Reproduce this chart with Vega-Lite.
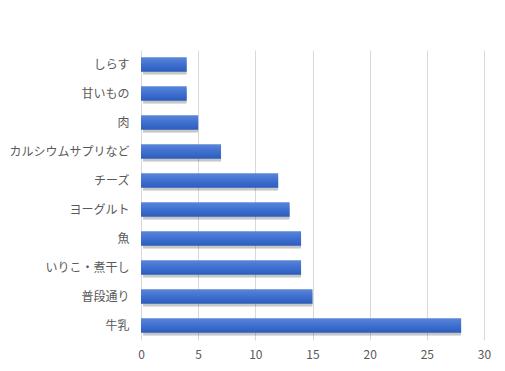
{
  "$schema": "https://vega.github.io/schema/vega-lite/v6.json",
  "autosize": {"type": "none"},
  "padding": {"left": 141, "top": 50, "right": 21, "bottom": 31},
  "width": 343,
  "height": 290,
  "background": "white",
  "config": {
    "view": {"stroke": null},
    "font": "Noto Sans CJK JP"
  },
  "data": {
    "values": [
      {"item": "しらす", "count": 4},
      {"item": "甘いもの", "count": 4},
      {"item": "肉", "count": 5},
      {"item": "カルシウムサプリなど", "count": 7},
      {"item": "チーズ", "count": 12},
      {"item": "ヨーグルト", "count": 13},
      {"item": "魚", "count": 14},
      {"item": "いりこ・煮干し", "count": 14},
      {"item": "普段通り", "count": 15},
      {"item": "牛乳", "count": 28}
    ]
  },
  "encoding": {
    "y": {
      "field": "item",
      "type": "nominal",
      "sort": null,
      "scale": {"paddingInner": 0.5, "paddingOuter": 0.25},
      "axis": {
        "title": null,
        "domain": false,
        "ticks": false,
        "labelPadding": 12,
        "labelFontSize": 12,
        "labelColor": "#595959",
        "labelFont": "Noto Sans CJK JP"
      }
    },
    "x": {
      "field": "count",
      "type": "quantitative",
      "scale": {"domain": [0, 30], "nice": false},
      "axis": {
        "title": null,
        "values": [0, 5, 10, 15, 20, 25, 30],
        "domain": false,
        "ticks": false,
        "grid": true,
        "gridColor": "#d9d9d9",
        "labelFlush": false,
        "labelPadding": 9,
        "labelFontSize": 12,
        "labelColor": "#595959",
        "labelFont": "Noto Sans CJK JP"
      }
    }
  },
  "layer": [
    {
      "mark": {"type": "bar", "color": "#000000", "opacity": 0.22, "xOffset": 2, "yOffset": 3, "cornerRadius": 1}
    },
    {
      "mark": {
        "type": "bar",
        "color": {
          "gradient": "linear",
          "x1": 0, "y1": 0, "x2": 0, "y2": 1,
          "stops": [
            {"offset": 0, "color": "#5a86d8"},
            {"offset": 0.5, "color": "#3f6fd0"},
            {"offset": 1, "color": "#2c5cbc"}
          ]
        }
      }
    }
  ]
}
